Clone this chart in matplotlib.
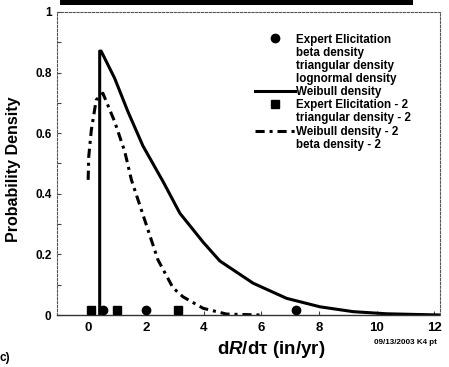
import matplotlib
matplotlib.use("Agg")
import matplotlib.pyplot as plt
from matplotlib.patches import Rectangle
from matplotlib.ticker import MultipleLocator

plt.rcParams['font.family'] = ['Liberation Sans', 'DejaVu Sans']
plt.rcParams['font.weight'] = 'bold'
plt.rcParams['mathtext.fontset'] = 'custom'
plt.rcParams['mathtext.it'] = 'Liberation Sans:italic:bold'
plt.rcParams['mathtext.rm'] = 'Liberation Sans:bold'

# Data
weibull_x = [0.4, 0.4, 0.45, 0.92, 1.38, 1.9, 2.6, 3.18, 3.99, 4.57, 5.72, 6.88, 8.04, 9.19, 10.35, 12.2]
weibull_y = [0.0, 0.871, 0.871, 0.781, 0.671, 0.558, 0.44, 0.336, 0.24, 0.178, 0.105, 0.055, 0.027, 0.011, 0.004, 0.0]

weibull2_x = [0.0, 0.02, 0.11, 0.28, 0.51, 0.92, 1.27, 1.5, 1.96, 2.42, 2.94, 3.29, 3.99, 4.8, 6.0]
weibull2_y = [0.446, 0.522, 0.61, 0.71, 0.732, 0.638, 0.539, 0.446, 0.314, 0.182, 0.09, 0.06, 0.022, 0.003, 0.0]

expert_x = [0.5, 2.0, 7.2]
expert_y = [0.017, 0.017, 0.017]
expert2_x = [0.1, 1.0, 3.1]
expert2_y = [0.017, 0.017, 0.017]

xticks = [0, 2, 4, 6, 8, 10, 12]
yticks = [0, 0.2, 0.4, 0.6, 0.8, 1.0]
ytick_labels = ['0', '0.2', '0.4', '0.6', '0.8', '1']

W, H = 449, 367
fig = plt.figure(figsize=(W / 100, H / 100), dpi=100)
ax = fig.add_axes([57 / W, 1 - 315 / H, (440 - 57) / W, (315 - 12) / H])

ax.plot(expert_x, expert_y, 'o', color='black', ms=6, linestyle='none', label='Expert Elicitation', zorder=5)
ax.plot([], [], linestyle='none', label='beta density')
ax.plot([], [], linestyle='none', label='triangular density')
ax.plot([], [], linestyle='none', label='lognormal density')
ax.plot(weibull_x, weibull_y, '-', color='black', lw=2.2, label='Weibull density', solid_joinstyle='round')
ax.plot(expert2_x, expert2_y, 's', color='black', ms=5.5, linestyle='none', label='Expert Elicitation - 2', zorder=5)
ax.plot([], [], linestyle='none', label='triangular density - 2')
ax.plot(weibull2_x, weibull2_y, color='black', lw=2.2, linestyle=(0, (3, 1.6, 1, 1.6)), label='Weibull density - 2')
ax.plot([], [], linestyle='none', label='beta density - 2')

ax.set_xlim(-1.08, 12.2)
ax.set_ylim(0, 1)
ax.set_xticks(xticks)
ax.set_xticklabels([str(t) for t in xticks], fontsize=9.5, fontweight='bold')
ax.set_yticks(yticks)
ax.set_yticklabels(ytick_labels, fontsize=8.5, fontweight='bold')
ax.yaxis.set_minor_locator(MultipleLocator(0.1))
ax.tick_params(axis='both', which='both', direction='in', length=3, width=0.8, color='#444444')
ax.tick_params(axis='y', pad=4)
ax.tick_params(axis='x', pad=5)

for side in ['top', 'right', 'left']:
    ax.spines[side].set_linestyle((0, (2, 1.5)))
    ax.spines[side].set_linewidth(0.8)
    ax.spines[side].set_color('#555555')
ax.spines['bottom'].set_linestyle((0, (5, 1)))
ax.spines['bottom'].set_linewidth(1.0)
ax.spines['bottom'].set_color('#333333')

ax.set_ylabel('Probability Density', fontsize=11.5, fontweight='bold')
ax.yaxis.set_label_coords(-0.095, 0.48)
ax.set_xlabel(r'd$\mathit{R}$/dτ (in/yr)', fontsize=13.5, fontweight='bold')
ax.xaxis.set_label_coords((271 - 57) / 383, -0.078)

leg = ax.legend(loc='upper left', bbox_to_anchor=(255 / W, 1 - 33.5 / H), bbox_transform=fig.transFigure,
                frameon=False, fontsize=8.4, handlelength=3.4, handletextpad=0.15,
                labelspacing=0.1, borderpad=0, borderaxespad=0)
for t in leg.get_texts():
    t.set_fontweight('bold')

# top black bar
fig.add_artist(Rectangle((60 / W, 1 - 4.5 / H), (413 - 60) / W, 4.5 / H, transform=fig.transFigure,
                         facecolor='black', edgecolor='none'))

fig.text(0 / W, 1 - 361 / H, 'c)', fontsize=8.5, fontweight='bold', va='baseline', ha='left')
fig.text(374 / W, 1 - 344 / H, '09/13/2003 K4 pt', fontsize=5.8, fontweight='bold', va='baseline', ha='left')

fig.savefig('out.png', dpi=100)
